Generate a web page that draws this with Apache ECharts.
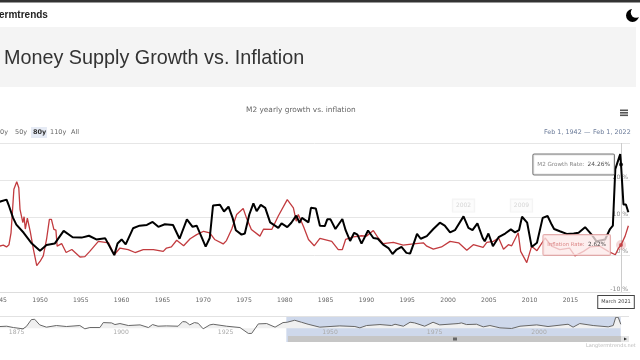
<!DOCTYPE html>
<html><head><meta charset="utf-8">
<style>html,body{margin:0;padding:0;background:#fff;overflow:hidden}#c{width:640px;height:360px}</style>
<script src="https://cdn.jsdelivr.net/npm/echarts@6/dist/echarts.min.js"></script>
</head><body><div id="c"></div>
<script>
const m2Years=[1944.7,1945.9,1946.2,1946.7,1947.1,1948.0,1949.0,1950.0,1950.8,1951.8,1952.9,1954.0,1955.1,1956.0,1956.9,1958.0,1959.1,1959.5,1960.0,1960.5,1961.4,1962.2,1963.1,1963.8,1964.5,1965.3,1966.3,1967.1,1968.0,1968.7,1969.2,1970.3,1970.8,1971.2,1972.05,1972.55,1973.1,1973.6,1974.0,1974.7,1975.1,1975.65,1976.15,1976.55,1977.05,1977.6,1978.2,1979.2,1979.6,1980.3,1980.8,1981.4,1981.8,1982.1,1982.9,1983.2,1983.8,1984.3,1984.9,1985.2,1985.6,1986.2,1987.05,1987.45,1988.0,1988.5,1988.9,1989.4,1990.2,1990.85,1991.4,1992.05,1992.7,1993.2,1993.7,1994.3,1994.9,1995.35,1995.75,1996.2,1996.65,1997.4,1998.2,1999.0,1999.6,2000.25,2000.85,2001.9,2002.5,2003.0,2003.6,2004.25,2004.5,2004.95,2005.5,2006.2,2007.0,2007.7,2008.2,2008.7,2009.07,2009.7,2010.25,2010.9,2011.6,2012.2,2012.7,2013.0,2013.7,2014.55,2015.4,2016.0,2016.8,2017.6,2018.2,2019.25,2019.85,2020.2,2020.5,2020.7,2021.1,2021.2,2021.5,2021.8,2022.1];
const m2Values=[14.0,14.8,13.1,9.9,8.1,5.9,3.0,1.1,2.6,3.0,6.4,4.7,4.6,5.1,4.1,4.4,-0.1,3.0,4.1,2.8,7.1,7.8,8.0,8.8,7.5,8.2,8.0,4.3,9.5,7.5,7.8,2.2,4.5,13.2,13.4,11.6,12.9,9.9,6.6,5.4,5.7,10.8,13.8,11.7,13.4,12.6,8.7,7.2,8.4,7.4,8.6,10.5,8.6,9.9,8.7,12.6,12.4,7.8,7.7,9.5,9.5,6.9,9.6,6.6,3.7,5.9,5.4,3.0,6.5,4.5,4.3,2.7,1.8,0.2,1.4,2.1,0.5,0.3,2.7,5.6,4.3,5.0,6.9,8.6,7.8,6.0,6.6,10.3,7.2,6.6,8.4,4.5,3.6,5.7,2.3,4.7,5.7,6.8,6.0,6.6,10.2,8.6,2.1,3.2,9.9,10.4,8.1,6.9,6.3,5.6,5.7,5.9,7.4,5.4,3.6,4.1,6.9,7.8,23.0,23.4,27.0,24.26,13.5,13.5,11.4];
const cpiYears=[1944.7,1945.5,1945.9,1946.2,1946.45,1946.8,1947.15,1947.4,1947.55,1947.7,1947.9,1948.05,1948.2,1948.45,1948.8,1949.2,1949.6,1950.0,1950.4,1950.8,1951.15,1951.4,1951.7,1951.95,1952.1,1952.65,1953.2,1953.9,1954.9,1955.5,1956.1,1957.15,1958.4,1959.1,1959.8,1960.8,1961.65,1962.65,1963.9,1965.1,1965.5,1966.1,1966.75,1967.6,1968.4,1969.2,1970.05,1970.8,1971.4,1972.45,1972.85,1973.5,1974.1,1974.9,1975.3,1975.9,1976.95,1977.4,1978.4,1979.2,1980.3,1981.05,1981.4,1981.65,1982.3,1982.9,1983.6,1984.3,1985.75,1986.55,1987.05,1987.45,1988.4,1989.4,1990.0,1990.85,1991.45,1992.05,1993.3,1994.5,1995.75,1996.97,1997.4,1998.2,1999.2,2000.25,2001.3,2002.3,2003.1,2004.3,2004.75,2005.55,2006.2,2006.8,2007.4,2007.8,2008.6,2008.9,2009.65,2010.25,2010.9,2011.9,2012.7,2013.7,2014.9,2015.55,2016.6,2017.4,2018.6,2019.65,2020.5,2020.9,2021.2,2021.7,2022.1];
const cpiValues=[2.1,2.6,2.1,2.7,5.9,17.6,19.6,18.0,12.2,12.6,8.6,10.2,6.9,9.8,6.3,1.4,-2.9,-1.8,-0.3,4.1,9.5,9.5,6.8,6.6,2.3,3.0,0.6,1.4,-0.6,-0.5,0.9,3.6,3.2,0,1.8,1.4,0.6,1.4,1.4,0.9,1.8,2.1,3.9,2.4,4.3,5.4,6.3,5.9,4.1,2.9,3.8,6.9,10.8,12.4,9.9,6.8,5.0,6.9,6.8,10.4,14.8,12.6,9.0,10.8,7.5,4.1,2.4,4.4,3.6,1.4,1.4,4.1,4.8,5.1,5.0,6.5,4.5,3.0,3.3,2.6,2.9,3.2,2.3,1.5,2.1,3.6,3.2,1.2,2.7,2.0,3.3,3.6,4.5,1.5,2.7,2.4,5.9,0.9,-2.1,2.3,1.1,4.5,2.3,1.4,1.8,-0.3,0.9,2.1,2.3,0.9,0,1.8,2.62,5.0,7.8];
const navYears=[1873.6,1875.2,1876.8,1879.1,1879.9,1881.1,1881.9,1883.1,1884.7,1887.1,1889.5,1892.7,1893.9,1895.1,1897.5,1898.3,1900.3,1901.1,1902.3,1904.3,1907.1,1909.1,1910.1,1911.4,1913.4,1916.2,1917.3,1918.1,1919.0,1920.1,1921.0,1922.2,1923.8,1924.6,1927.8,1931.0,1933.0,1933.8,1935.4,1937.4,1939.4,1941.3,1942.3,1944.1,1945.7,1947.3,1950.1,1954.9,1958.5,1959.7,1961.3,1964.5,1967.3,1968.1,1970.1,1971.7,1972.8,1975.2,1977.2,1978.8,1983.2,1984,1985.2,1987.6,1989.2,1990.8,1993.2,1996,1998,2002,2004.7,2009.5,2010.7,2012.3,2015.5,2019.1,2020.3,2020.9,2021.5,2022.1];
const navValues=[4.1,4.9,1.6,-1.6,4.1,21.3,22.1,8.2,2.5,6.6,4.1,6.6,-1.6,1.6,1.6,13.9,13.1,9.0,11.5,6.6,8.2,1.6,9.0,4.9,5.7,4.9,16.4,15.6,8.2,13.9,12.3,-1.6,8.2,9.8,4.9,1.6,-13.1,-13.1,10.7,11.5,2.5,13.9,14.8,19.7,14.8,9.8,2.5,5.7,4.1,0.8,6.6,9.0,6.6,9.8,4.9,14.8,13.1,4.9,14.8,8.2,11.5,13.1,9.0,9.8,3.3,6.6,0.8,-0.8,4.9,8.2,4.1,9.8,2.5,11.5,6.6,3.3,6.6,27,27,9.8];
const rangeButtons=["0y","50y","80y","110y","All"];
const rangeX=[0,15,33,50,71];
const annotations=[[2001.9,13.2,"2002"],[2009.0,13.2,"2009"]];
const markerDate=2021.2, m2Now=24.26, cpiNow=2.62;
const zip=(a,b)=>a.map((x,i)=>[x,b[i]]);
const F='"DejaVu Sans"', S='"Liberation Sans"';
const txt=(x,y,t,size,fill,extra)=>({type:'text',x,y,style:Object.assign({text:t,font:`${size}px ${F}`,fill,textVerticalAlign:'middle'},extra||{})});
const rect=(x,y,w,h,fill,z)=>({type:'rect',shape:{x,y,width:w,height:h},style:{fill},z:z||-1});
const graphics=[
 rect(0,0,640,2.5,'#333'),
 rect(0,27,636,60,'#f4f4f4'),
 {type:'text',x:-1,y:15,style:{text:'ermtrends',font:`bold 10px ${S}`,fill:'#222',textVerticalAlign:'middle'}},
 {type:'text',x:4,y:59,style:{text:'Money Supply Growth vs. Inflation',font:`19.8px ${S}`,fill:'#333',textVerticalAlign:'middle'}},
 txt(246,110.5,'M2 yearly growth vs. inflation',7.4,'#666'),
 rect(31,127,16,11,'#e6ebf5'),
 ...rangeButtons.map((t,i)=>({type:'text',x:rangeX[i],y:132.5,style:{text:t,font:`${i==2?'bold ':''}6.5px ${F}`,fill:i==2?'#333':'#666',textVerticalAlign:'middle'}})),
 txt(544,132,'Feb 1, 1942',6.4,'#6b7b99'),
 txt(584,132,'—',6.4,'#6b7b99'),
 txt(593,132,'Feb 1, 2022',6.4,'#6b7b99'),
 rect(620,109.5,8,1.6,'#555'),rect(620,112,8,1.6,'#555'),rect(620,114.5,8,1.6,'#555'),
 {type:'circle',shape:{cx:632.5,cy:15.5,r:6.5},style:{fill:'#000'},z:1},
 {type:'circle',shape:{cx:636,cy:12.5,r:5.2},style:{fill:'#fff'},z:2},
 txt(586,346,'Langtermtrends.net',5,'#bbb'),
 rect(0,316,629,1,'#e2e2e2',10),
];
const baseLabel={fontFamily:F,fontSize:6.1,color:'#666'};
const chart=echarts.init(document.getElementById('c'));
chart.setOption({
 animation:false,
 graphic:graphics,
 grid:[{left:-41.6,right:10,top:143,height:149,outerBoundsMode:'none'},{left:0,right:18,top:316,height:26,outerBoundsMode:'none'}],
 xAxis:[
  {type:'value',gridIndex:0,min:1940,max:2022.3,interval:5,splitLine:{show:false},
   axisLine:{show:true,onZero:false,lineStyle:{color:'#ddd'}},axisTick:{show:false},
   axisLabel:Object.assign({},baseLabel,{showMaxLabel:false,margin:5,formatter:v=>String(v)})},
  {type:'value',gridIndex:1,min:1873.6,max:2022.4,splitLine:{show:false},axisLine:{show:false},axisTick:{show:false},axisLabel:{show:false}}
 ],
 yAxis:[
  {type:'value',gridIndex:0,position:'right',min:-10,max:30,interval:10,
   splitLine:{lineStyle:{color:'#e6e6e6',width:1}},axisLine:{show:false},axisTick:{show:false},
   axisLabel:Object.assign({},baseLabel,{inside:true,margin:2,verticalAlign:'bottom',showMaxLabel:false,formatter:'{value} %',color:'#888'})},
  {type:'value',gridIndex:1,min:-34.4,max:30.3,splitLine:{show:false},axisLine:{show:false},axisTick:{show:false},axisLabel:{show:false}}
 ],
 series:[
  {name:'Navigator',type:'line',xAxisIndex:1,yAxisIndex:1,data:zip(navYears,navValues),symbol:'none',silent:true,
   lineStyle:{color:'#666',width:1},areaStyle:{color:'#f0f0f0',opacity:1},
   markArea:{silent:true,itemStyle:{color:'rgba(102,133,194,0.32)'},data:[[{xAxis:1942.1,yAxis:-34.4},{xAxis:2022.1,yAxis:30.3}]]}},
  {name:'Inflation Rate',type:'line',data:zip(cpiYears,cpiValues),symbol:'none',lineStyle:{color:'#c23b3f',width:1.3},z:3},
  {name:'M2 Growth Rate',type:'line',data:zip(m2Years,m2Values),symbol:'none',lineStyle:{color:'#000',width:2},z:4,
   markLine:{silent:true,symbol:'none',z:2,lineStyle:{color:'#ccc',width:1,type:'solid'},data:[{xAxis:markerDate}],
    label:{show:true,position:'start',distance:3,offset:[-5,1],formatter:'March 2021',fontFamily:F,fontSize:5,color:'#444',backgroundColor:'#fff',borderColor:'#444',borderWidth:1,padding:[3.5,3]}}},
  {name:'Annotations',type:'scatter',data:annotations.map(a=>({value:[a[0],a[1]],name:a[2]})),symbolSize:0,silent:true,
   label:{show:true,position:'inside',formatter:p=>p.name,fontFamily:F,fontSize:6,color:'#ccc',backgroundColor:'#fbfbfb',borderColor:'#f0f0f0',borderWidth:1,padding:[3,3]}},
  {name:'M2 marker',type:'scatter',z:8,data:[[markerDate,m2Now]],symbol:'circle',symbolSize:4,itemStyle:{color:'#000'},
   label:{show:true,position:'left',distance:5,formatter:()=>`{a|M2 Growth Rate:} {b|${m2Now}%}`,backgroundColor:'#fff',borderColor:'#555',borderWidth:1,borderRadius:1,padding:[4,4],
    rich:{a:{fontFamily:F,fontSize:5.6,color:'#666',lineHeight:9},b:{fontFamily:F,fontSize:5.9,color:'#222',lineHeight:9}}}},
  {name:'Inflation marker',type:'scatter',z:8,data:[[markerDate,cpiNow]],symbol:'circle',symbolSize:4,itemStyle:{color:'#c23b3f',borderColor:'rgba(194,59,63,0.25)',borderWidth:6},
   label:{show:true,position:'left',distance:6,formatter:()=>`{a|Inflation Rate:} {b|${cpiNow}%}`,backgroundColor:'rgba(252,232,232,0.95)',borderColor:'#d99',borderWidth:1,borderRadius:1,padding:[4,4],
    rich:{a:{fontFamily:F,fontSize:5.3,color:'#d26a6a',lineHeight:9},b:{fontFamily:F,fontSize:5.7,color:'#222',lineHeight:9}}}}
 ]
});
const navLabels=[1875,1900,1925,1950,1975,2000];
chart.setOption({graphic:graphics.concat(navLabels.map(y=>{
 const p=chart.convertToPixel({xAxisIndex:1},y);
 return {type:'text',x:p+3,y:332,z:10,style:{text:String(y),font:`6.1px ${F}`,fill:'#aaa',textVerticalAlign:'middle'}};
}),[rect(288,336,333,6,'#c6c6c6',10),rect(621,336,8,6,'#e6e6e6',10),
 {type:'polygon',shape:{points:[[624,337.5],[627,339],[624,340.5]]},style:{fill:'#333'},z:11},
 rect(453,337.5,4,3,'#666',11)])});
</script></body></html>
